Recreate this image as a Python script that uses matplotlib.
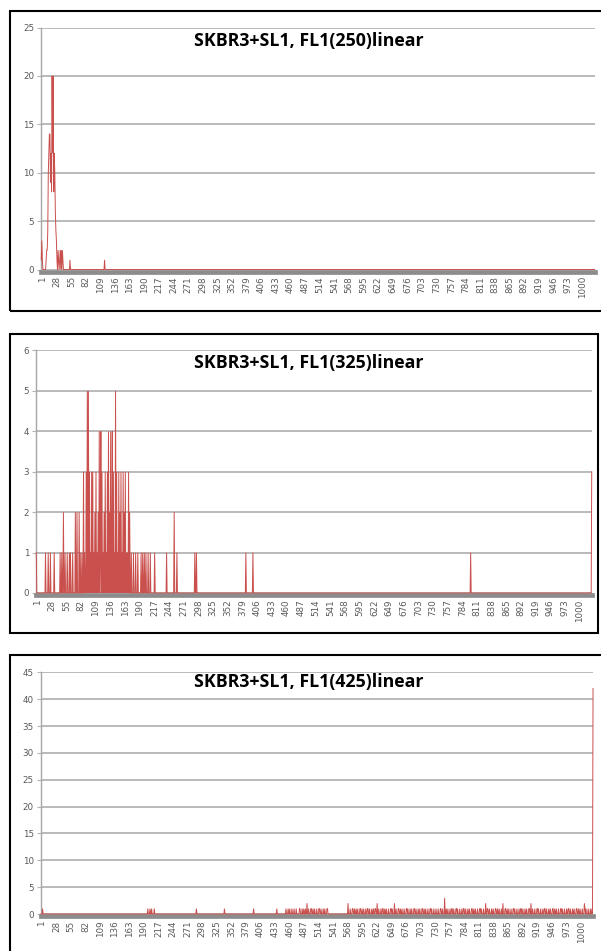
import matplotlib
matplotlib.use("Agg")
import matplotlib.pyplot as plt
import matplotlib.transforms as mtransforms
from matplotlib.patches import Rectangle
import numpy as np

W, H = 601, 951
N_CHANNELS = 1024
tick_labels = [str(v) for v in range(1, 1001, 27)]

titles = ["SKBR3+SL1, FL1(250)linear",
          "SKBR3+SL1, FL1(325)linear",
          "SKBR3+SL1, FL1(425)linear"]

# Panel 1: FL1(250) nonzero channels and counts
p1_channels = [1, 2, 3, 10, 11, 12, 13, 14, 15, 16, 17, 18, 19, 20, 21, 22, 23, 24, 25,
               26, 27, 28, 29, 30, 32, 33, 35, 36, 38, 40, 41, 54, 118]
p1_counts = [1, 3, 1, 1, 2, 2, 4, 10, 12, 14, 14, 9, 12, 8, 20, 12, 20, 8, 12,
             10, 6, 4, 3, 1, 2, 1, 1, 2, 2, 2, 1, 1, 1]

# Panel 2: FL1(325)
p2_channels = [1, 18, 23, 27, 34, 45, 48, 51, 54, 58, 62, 64, 68, 73, 76, 80, 82,
               85, 88, 90, 93, 95, 97, 99, 101, 103, 105, 107, 109, 111, 113, 115, 117,
               119, 120, 122, 124, 126, 128, 130, 132, 134, 136, 138, 140, 141, 143, 145,
               147, 149, 151, 153, 155, 157, 159, 161, 163, 165, 167, 169, 171, 173, 176,
               180, 184, 188, 194, 197, 200, 203, 207, 211, 219, 241, 255,
               260, 293, 296, 387, 400, 801, 1024]
p2_counts = [1, 1, 1, 1, 1, 1, 1, 2, 1, 1, 1, 1, 1, 2, 2, 2, 1,
             1, 3, 1, 3, 5, 5, 3, 1, 3, 3, 1, 2, 3, 1, 2, 4,
             1, 4, 3, 1, 2, 3, 1, 3, 4, 2, 4, 1, 4, 3, 1,
             5, 3, 1, 3, 2, 3, 1, 3, 2, 3, 1, 1, 3, 2, 1,
             1, 1, 1, 1, 1, 1, 1, 1, 1, 1, 1, 2,
             1, 1, 1, 1, 1, 1, 3]

# Panel 3: FL1(425)
p3_channels = [4, 199, 203, 206, 211, 289, 341, 395, 438, 455, 459, 462, 466, 470, 474,
               480, 481, 485, 488, 491, 494, 497, 501, 502, 505, 508, 512, 516, 517, 520,
               524, 527, 531, 532, 570, 574, 578, 579, 582, 585, 588, 592, 593, 596, 599,
               603, 606, 607, 610, 614, 617, 620, 621, 624, 627, 631, 634, 635, 638, 641,
               645, 649, 650, 652, 656, 659, 663, 664, 667, 670, 674, 678, 679, 681, 685,
               688, 692, 693, 696, 700, 703, 707, 708, 711, 714, 718, 722, 723, 725, 729,
               733, 737, 741, 742, 745, 749, 752, 755, 759, 762, 763, 766, 770, 771, 773,
               777, 781, 784, 785, 788, 792, 795, 799, 800, 803, 806, 810, 814, 815, 817,
               821, 825, 828, 829, 832, 836, 839, 843, 844, 847, 850, 854, 857, 861, 862,
               865, 868, 872, 876, 877, 879, 883, 887, 890, 891, 894, 898, 901, 905, 906,
               909, 912, 916, 920, 921, 923, 927, 931, 934, 935, 938, 942, 945, 949, 950,
               953, 956, 960, 964, 965, 967, 971, 975, 978, 979, 982, 986, 989, 993, 994,
               997, 1000, 1004, 1008, 1009, 1011, 1015, 1019, 1022, 1024]
p3_counts = [1, 1, 1, 1, 1, 1, 1, 1, 1, 1, 1, 1, 1, 1, 1,
             1, 1, 1, 1, 1, 2, 1, 1, 1, 1, 1, 1, 1, 1, 1,
             1, 1, 1, 1, 2, 1, 1, 1, 1, 1, 1, 1, 1, 1, 1,
             1, 1, 1, 1, 1, 1, 1, 1, 2, 1, 1, 1, 1, 1, 1,
             1, 1, 1, 1, 2, 1, 1, 1, 1, 1, 1, 1, 1, 1, 1,
             1, 1, 1, 1, 1, 1, 1, 1, 1, 1, 1, 1, 1, 1, 1,
             1, 1, 1, 1, 1, 3, 1, 1, 1, 1, 1, 1, 1, 1, 1,
             1, 1, 1, 1, 1, 1, 1, 1, 1, 1, 1, 1, 1, 1, 1,
             1, 2, 1, 1, 1, 1, 1, 1, 1, 1, 1, 1, 2, 1, 1,
             1, 1, 1, 1, 1, 1, 1, 1, 1, 1, 1, 1, 1, 1, 1,
             2, 1, 1, 1, 1, 1, 1, 1, 1, 1, 1, 1, 1, 1, 1,
             1, 1, 1, 1, 1, 1, 1, 1, 1, 1, 1, 1, 1, 1, 1,
             1, 1, 1, 2, 1, 1, 1, 1, 1, 42]

y_max = [25, 6, 45]
y_step = [5, 1, 5]

channels_list = [p1_channels, p2_channels, p3_channels]
counts_list = [p1_counts, p2_counts, p3_counts]

# layout in pixels: (left, right, top, bottom)
axes_px = [(41, 595, 27.5, 269.5), (36, 592, 350.5, 593), (40.7, 593.3, 672.3, 914)]
boxes_px = [(10, 606, 11, 311), (10, 598, 334, 633), (10, 606, 655, 960)]
title_px = [(309, 41), (309, 363), (309, 682)]

RED = '#C9504D'
GRID = '#b4b4b4'
TXT = '#595959'

fig = plt.figure(figsize=(W / 100, H / 100), dpi=100)
fig.patch.set_facecolor('white')

for i in range(3):
    l, r, t, b = axes_px[i]
    ax = fig.add_axes([l / W, 1 - b / H, (r - l) / W, (b - t) / H])
    x = np.arange(1, N_CHANNELS + 1)
    y = np.zeros(N_CHANNELS)
    for c, v in zip(channels_list[i], counts_list[i]):
        y[c - 1] = v
    ax.plot(x, y, color=RED, lw=0.7, clip_on=False, zorder=3, solid_joinstyle='miter')
    ax.set_xlim(0.5, N_CHANNELS + 0.5)
    ax.set_ylim(0, y_max[i])
    ax.set_yticks(np.arange(0, y_max[i] + 0.1, y_step[i]))
    ax.yaxis.grid(True, color=GRID, lw=1.3)
    ax.set_axisbelow(True)
    ax.set_xticks(range(1, 1001, 27))
    ax.set_xticklabels(tick_labels)
    ax.tick_params(axis='x', length=0, pad=3, labelrotation=90, labelsize=6.3, labelcolor=TXT)
    ax.tick_params(axis='y', length=3, color=GRID, labelsize=6.3, labelcolor=TXT, pad=2)
    for s in ['top', 'right']:
        ax.spines[s].set_visible(False)
    ax.spines['left'].set_color('#a6a6a6')
    ax.spines['left'].set_linewidth(1.0)
    ax.spines['bottom'].set_color('#8c8c8c')
    ax.spines['bottom'].set_linewidth(3.4)
    ax.spines['bottom'].set_position(('outward', 1.7))
    ax.patch.set_alpha(0)
    offset = mtransforms.ScaledTranslation(1 / 100, 0, fig.dpi_scale_trans)
    for lab in ax.get_xticklabels():
        lab.set_transform(lab.get_transform() + offset)

    bl, br, bt, bb = boxes_px[i]
    fig.patches.append(Rectangle((bl / W, 1 - bb / H), (br - bl) / W, (bb - bt) / H,
                                 transform=fig.transFigure, fill=False, ec='black', lw=1.5))
    tx, ty = title_px[i]
    fig.text(tx / W, 1 - ty / H, titles[i], ha='center', va='center', fontsize=12.8,
             fontweight='bold', family='Open Sans', color='black')

fig.savefig('out.png', dpi=100)
